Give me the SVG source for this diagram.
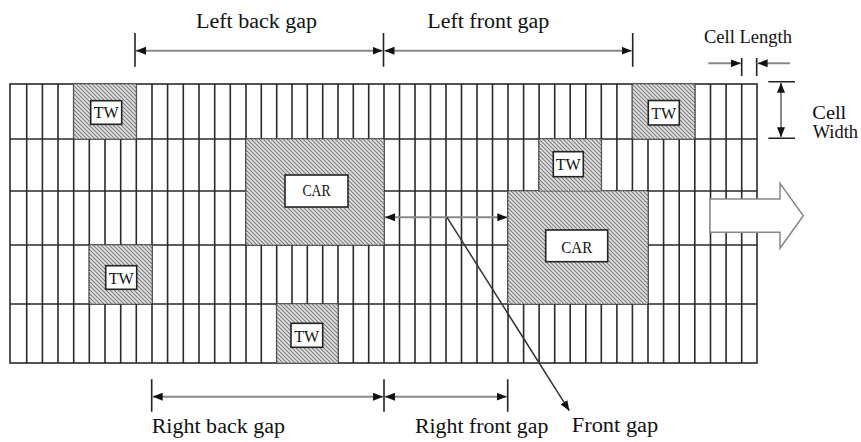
<svg xmlns="http://www.w3.org/2000/svg" width="861" height="442" viewBox="0 0 861 442">
<style>
  .grid{fill:none;stroke:#2a2a2a;stroke-width:1.6}
  .blk{fill:url(#hatch);stroke:#555;stroke-width:1.2;stroke-dasharray:1.5 1}
  .lbl{fill:#fff;stroke:#222;stroke-width:1.6}
  .bt{font-family:"Liberation Serif","Times New Roman",serif;fill:#111;text-anchor:middle}
  .t{font-family:"Liberation Serif","Times New Roman",serif;fill:#111;font-size:20px}
  .dim{stroke:#888;stroke-width:2;fill:none}
  .tick{stroke:#222;stroke-width:1.6}
</style>
<defs>
  <pattern id="hatch" patternUnits="userSpaceOnUse" width="4" height="4">
    <rect width="4" height="4" fill="#e2e2e2"/>
    <path d="M0,0L4,4M-1,3L1,5M3,-1L5,1" stroke="#7c7c7c" stroke-width="1.1"/>
  </pattern>
  <marker id="ah" viewBox="0 0 10 8" refX="10" refY="4" markerWidth="10" markerHeight="8" markerUnits="userSpaceOnUse" orient="auto-start-reverse">
    <path d="M0,0L10,4L0,8z" fill="#111"/>
  </marker>
</defs>
<g id="grid">
  <rect class="grid" x="10" y="84" width="747" height="279"/>
  <path class="grid" d="M10 139H757M10 191H757M10 245H757M10 304H757"/>
  <path class="grid" d="M26.7 84V363M42.4 84V363M58 84V363M73.7 84V363M89.3 84V363M105 84V363M120.7 84V363M136.3 84V363M152 84V363M167.6 84V363M183.3 84V363M199 84V363M214.7 84V363M230.3 84V363M246 84V363M261.3 84V363M276.7 84V363M292 84V363M307.3 84V363M322.7 84V363M338 84V363M353.3 84V363M368.7 84V363M384 84V363M399.5 84V363M415 84V363M430.5 84V363M446 84V363M461.5 84V363M477 84V363M492.5 84V363M508 84V363M523.6 84V363M539.1 84V363M554.7 84V363M570.2 84V363M585.8 84V363M601.3 84V363M616.9 84V363M632.4 84V363M648 84V363M663.6 84V363M679.2 84V363M694.8 84V363M710.5 84V363M726.1 84V363M741.7 84V363"/>
</g>
<g id="car1">
  <rect class="blk" x="246" y="139" width="138" height="106"/>
  <rect class="lbl" x="285" y="175" width="63" height="32"/>
  <text class="bt" x="316.5" y="196" font-size="16" textLength="28" lengthAdjust="spacingAndGlyphs">CAR</text>
</g>
<g id="car2">
  <rect class="blk" x="508" y="191" width="140" height="113"/>
  <rect class="lbl" x="545.7" y="230" width="62" height="31.7"/>
  <text class="bt" x="576.8" y="252.5" font-size="16" textLength="31" lengthAdjust="spacingAndGlyphs">CAR</text>
</g>
<g id="tw1">
  <rect class="blk" x="73.7" y="84" width="62.6" height="55"/>
  <rect class="lbl" x="90.7" y="100.7" width="31" height="23.6"/>
  <text class="bt" x="106.2" y="118" font-size="17" textLength="25" lengthAdjust="spacingAndGlyphs">TW</text>
</g>
<g id="tw2">
  <rect class="blk" x="632.4" y="84" width="62.4" height="55"/>
  <rect class="lbl" x="648.3" y="100.5" width="31" height="24.5"/>
  <text class="bt" x="663.8" y="119" font-size="17" textLength="25" lengthAdjust="spacingAndGlyphs">TW</text>
</g>
<g id="tw3">
  <rect class="blk" x="539.1" y="139" width="62.2" height="52"/>
  <rect class="lbl" x="553.3" y="151.7" width="30" height="25"/>
  <text class="bt" x="568.3" y="170" font-size="17" textLength="25" lengthAdjust="spacingAndGlyphs">TW</text>
</g>
<g id="tw4">
  <rect class="blk" x="89.3" y="245" width="62.7" height="59"/>
  <rect class="lbl" x="105.7" y="265.7" width="31" height="23.6"/>
  <text class="bt" x="121.2" y="284.3" font-size="17" textLength="25" lengthAdjust="spacingAndGlyphs">TW</text>
</g>
<g id="tw5">
  <rect class="blk" x="276.7" y="304" width="61.3" height="59"/>
  <rect class="lbl" x="291" y="323.3" width="31.7" height="24"/>
  <text class="bt" x="306.8" y="342.3" font-size="17" textLength="25" lengthAdjust="spacingAndGlyphs">TW</text>
</g>
<g id="direction-arrow">
  <polygon points="710,199 780,199 780,183.3 803.3,215.7 780,248.3 780,232.3 710,232.3" fill="#fff" stroke="#888" stroke-width="1.5"/>
</g>
<g id="connectors">
  <path class="tick" d="M135 33V66.7M383.5 33V66.7M632.7 33V66.7"/>
  <path class="dim" d="M136 50.7H382.5" marker-start="url(#ah)" marker-end="url(#ah)"/>
  <path class="dim" d="M384.5 50.7H631.7" marker-start="url(#ah)" marker-end="url(#ah)"/>
  <path class="tick" d="M151.7 379.3V411.7M384 379.3V411.7M507.7 379.3V411.7"/>
  <path class="dim" d="M152.7 396.7H383" marker-start="url(#ah)" marker-end="url(#ah)"/>
  <path class="dim" d="M385 396.7H506.7" marker-start="url(#ah)" marker-end="url(#ah)"/>
  <path class="tick" d="M741.7 58V76M756.7 58V76"/>
  <path class="dim" d="M708.3 63.3H740.8" marker-end="url(#ah)"/>
  <path class="dim" d="M790 63.3H757.6" marker-end="url(#ah)"/>
  <path class="tick" d="M768.3 81.7H795M768.3 138.3H795"/>
  <path class="dim" d="M781 82.7V137.3" marker-start="url(#ah)" marker-end="url(#ah)"/>
  <path class="dim" d="M385 217.3H507.3" marker-start="url(#ah)" marker-end="url(#ah)"/>
  <path d="M447 217.3L569.3 410.7" stroke="#333" stroke-width="1.5" fill="none" marker-end="url(#ah)"/>
</g>
<g id="labels">
  <text class="t" x="196" y="28.3" textLength="121" lengthAdjust="spacingAndGlyphs">Left back gap</text>
  <text class="t" x="427.3" y="28.3" textLength="122" lengthAdjust="spacingAndGlyphs">Left front gap</text>
  <text class="t" x="704" y="43.3" textLength="88" lengthAdjust="spacingAndGlyphs" style="font-size:19px">Cell Length</text>
  <text class="t" x="812.3" y="119.3" style="font-size:19px" textLength="34" lengthAdjust="spacingAndGlyphs">Cell</text>
  <text class="t" x="812.7" y="138.3" style="font-size:19px" textLength="45.3" lengthAdjust="spacingAndGlyphs">Width</text>
  <text class="t" x="151.7" y="433.3" textLength="133.3" lengthAdjust="spacingAndGlyphs">Right back gap</text>
  <text class="t" x="415" y="433.3" textLength="133.3" lengthAdjust="spacingAndGlyphs">Right front gap</text>
  <text class="t" x="571.7" y="431.7" textLength="86.6" lengthAdjust="spacingAndGlyphs">Front gap</text>
</g>
</svg>
